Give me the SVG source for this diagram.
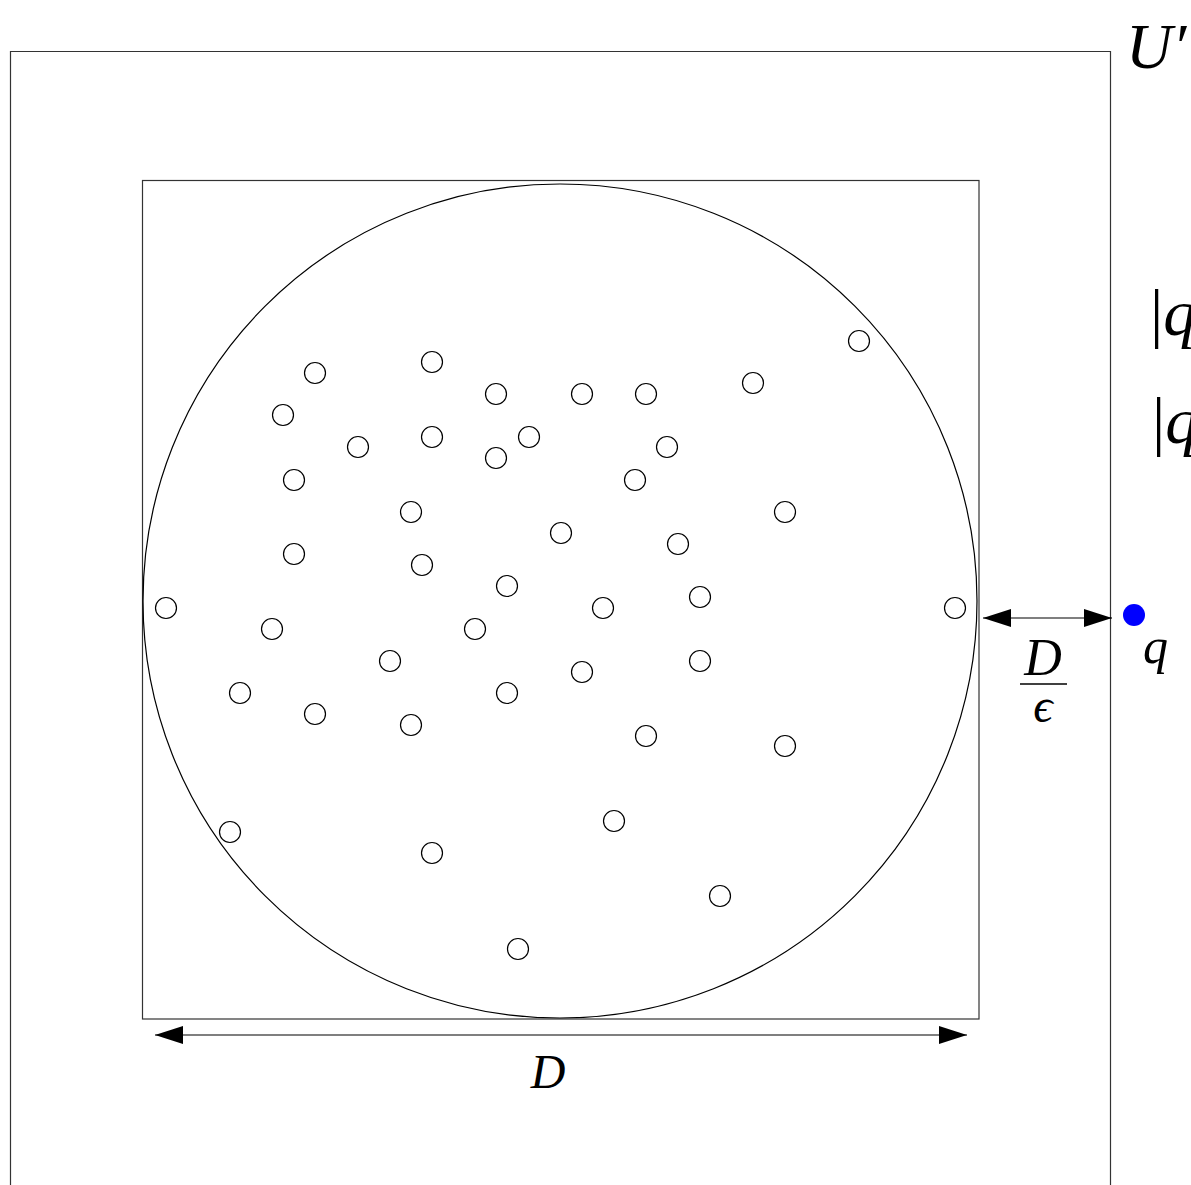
<svg xmlns="http://www.w3.org/2000/svg" width="1191" height="1185" viewBox="0 0 1191 1185">
<style>
.frame{fill:none;stroke:#333;stroke-width:1.2}
.pt{fill:none;stroke:#000;stroke-width:1.2}
.conn{stroke:#000;stroke-width:1.2;fill:none}
.m{font-family:"Liberation Serif","DejaVu Serif",serif;font-style:italic;fill:#000}
.up{font-family:"Liberation Serif","DejaVu Serif",serif;font-style:normal;fill:#000}
</style>
<defs>
<marker id="ah" markerUnits="userSpaceOnUse" markerWidth="28" markerHeight="18" refX="28" refY="9" orient="auto-start-reverse"><path d="M0,0 L28,9 L0,18 z" fill="#000"/></marker>
</defs>
<rect width="1191" height="1185" fill="#fff"/>
<g id="outer-region">
<path class="frame" d="M10.5,1185 V51.5 H1110.5 V1185"/>
<text class="m" x="1126" y="68" font-size="64">U′</text>
</g>
<g id="bounding-box">
<rect class="frame" x="142.5" y="180.5" width="836.5" height="838.5"/>
</g>
<g id="disk">
<circle class="pt" cx="560" cy="601" r="417"/>
</g>
<g id="points">
<circle class="pt" cx="315" cy="373" r="10.5"/>
<circle class="pt" cx="432" cy="362" r="10.5"/>
<circle class="pt" cx="496" cy="394" r="10.5"/>
<circle class="pt" cx="582" cy="394" r="10.5"/>
<circle class="pt" cx="646" cy="394" r="10.5"/>
<circle class="pt" cx="753" cy="383" r="10.5"/>
<circle class="pt" cx="859" cy="341" r="10.5"/>
<circle class="pt" cx="283" cy="415" r="10.5"/>
<circle class="pt" cx="358" cy="447" r="10.5"/>
<circle class="pt" cx="432" cy="437" r="10.5"/>
<circle class="pt" cx="496" cy="458" r="10.5"/>
<circle class="pt" cx="529" cy="437" r="10.5"/>
<circle class="pt" cx="667" cy="447" r="10.5"/>
<circle class="pt" cx="294" cy="480" r="10.5"/>
<circle class="pt" cx="635" cy="480" r="10.5"/>
<circle class="pt" cx="411" cy="512" r="10.5"/>
<circle class="pt" cx="785" cy="512" r="10.5"/>
<circle class="pt" cx="561" cy="533" r="10.5"/>
<circle class="pt" cx="678" cy="544" r="10.5"/>
<circle class="pt" cx="294" cy="554" r="10.5"/>
<circle class="pt" cx="422" cy="565" r="10.5"/>
<circle class="pt" cx="507" cy="586" r="10.5"/>
<circle class="pt" cx="700" cy="597" r="10.5"/>
<circle class="pt" cx="166" cy="608" r="10.5"/>
<circle class="pt" cx="603" cy="608" r="10.5"/>
<circle class="pt" cx="955" cy="608" r="10.5"/>
<circle class="pt" cx="272" cy="629" r="10.5"/>
<circle class="pt" cx="475" cy="629" r="10.5"/>
<circle class="pt" cx="390" cy="661" r="10.5"/>
<circle class="pt" cx="582" cy="672" r="10.5"/>
<circle class="pt" cx="700" cy="661" r="10.5"/>
<circle class="pt" cx="240" cy="693" r="10.5"/>
<circle class="pt" cx="507" cy="693" r="10.5"/>
<circle class="pt" cx="315" cy="714" r="10.5"/>
<circle class="pt" cx="411" cy="725" r="10.5"/>
<circle class="pt" cx="646" cy="736" r="10.5"/>
<circle class="pt" cx="785" cy="746" r="10.5"/>
<circle class="pt" cx="230" cy="832" r="10.5"/>
<circle class="pt" cx="432" cy="853" r="10.5"/>
<circle class="pt" cx="614" cy="821" r="10.5"/>
<circle class="pt" cx="720" cy="896" r="10.5"/>
<circle class="pt" cx="518" cy="949" r="10.5"/>
</g>
<g id="query">
<circle cx="1134" cy="615" r="11" fill="#0000ff"/>
<text class="m" x="1143" y="663" font-size="50">q</text>
</g>
<g id="labels-right">
<text x="1150" y="335"><tspan class="up" font-size="66">|</tspan><tspan class="m" font-size="66">q</tspan></text>
<text x="1152" y="443"><tspan class="up" font-size="66">|</tspan><tspan class="m" font-size="66">q</tspan></text>
</g>
<g id="connectors">
<line class="conn" x1="983" y1="618" x2="1112" y2="618" marker-start="url(#ah)" marker-end="url(#ah)"/>
<line class="conn" x1="155" y1="1035" x2="967" y2="1035" marker-start="url(#ah)" marker-end="url(#ah)"/>
</g>
<g id="dim-labels">
<text class="m" x="1043" y="675" font-size="52" text-anchor="middle">D</text>
<line x1="1020" y1="684" x2="1067" y2="684" stroke="#000" stroke-width="1.5"/>
<text class="m" x="1043" y="722" font-size="48" text-anchor="middle">ϵ</text>
<text class="m" x="548" y="1088" font-size="48" text-anchor="middle">D</text>
</g>
</svg>
